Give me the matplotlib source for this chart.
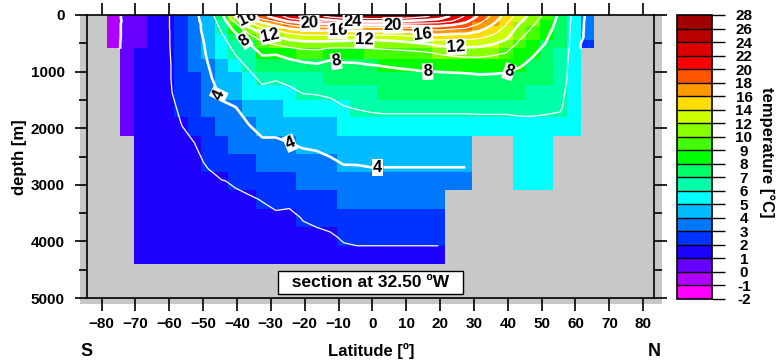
"""
Meridional temperature section at 32.5 W (latitude vs depth).
Blocky model cells filled by temperature class, white isotherms on top.
"""
import numpy as np
import matplotlib
matplotlib.use('Agg')
import matplotlib.pyplot as plt
from matplotlib.colors import ListedColormap, BoundaryNorm
from matplotlib.patches import Rectangle

plt.rcParams['font.family'] = ['Liberation Sans', 'DejaVu Sans']
plt.rcParams['font.weight'] = 'bold'

# === Data =====================================================================

# model grid (cell edges), 4 degree latitude cells
lat_edges = [-78.5, -74.5, -70.5, -66.5, -62.5, -58.5, -54.5, -50.5, -46.5,
             -42.5, -38.5, -34.5, -30.5, -26.5, -22.5, -18.5, -14.5, -10.5,
             -6.5, -2.5, 1.5, 5.5, 9.5, 13.5, 17.5, 21.5, 25.5, 29.5, 33.5,
             37.5, 41.5, 45.5, 49.5, 53.5, 57.5, 61.5, 65.5]
depth_edges = [0, 35, 80, 130, 190, 260, 340, 440, 583, 780, 1000, 1240, 1500,
               1800, 2138, 2450, 2770, 3092, 3420, 3750, 4080, 4400]

# temperature profile of each ocean column, surface downwards (deg C);
# a column stops where the sea floor is reached
temp_columns = [
    [-0.5, -0.5, -0.6, -0.6, -0.6, -0.6, -0.6, -0.6],
    [0.4, 0.4, 0.4, 0.5, 0.5, 0.5, 0.5, 0.6, 0.6, 0.6, 0.6, 0.6, 0.6, 0.6],
    [0.7, 0.7, 0.7, 0.7, 0.8, 0.8, 0.8, 0.9, 1.3, 1.3, 1.3, 1.3, 1.3, 1.2, 1.2, 1.2, 1.1, 1.1, 1.1, 1.1, 1.1],
    [1.6, 1.6, 1.7, 1.7, 1.7, 1.7, 1.7, 1.7, 1.6, 1.6, 1.6, 1.5, 1.5, 1.5, 1.4, 1.4, 1.3, 1.3, 1.3, 1.2, 1.2],
    [1.9, 1.9, 1.9, 1.9, 1.9, 1.9, 1.9, 1.9, 1.9, 1.9, 1.9, 1.9, 1.8, 1.8, 1.7, 1.6, 1.6, 1.5, 1.5, 1.4, 1.4],
    [2.6, 2.6, 2.6, 2.6, 2.6, 2.5, 2.5, 2.5, 2.4, 2.3, 2.3, 2.2, 2.1, 1.98, 1.9, 1.8, 1.7, 1.6, 1.5, 1.5, 1.4],
    [3.6, 3.6, 3.6, 3.5, 3.5, 3.5, 3.4, 3.3, 3.2, 3.05, 2.9, 2.7, 2.45, 2.2, 1.98, 1.9, 1.85, 1.8, 1.7, 1.6, 1.5],
    [4.9, 4.8, 4.7, 4.6, 4.6, 4.5, 4.4, 4.3, 4.2, 3.98, 3.8, 3.5, 3.2, 2.8, 2.4, 2.05, 1.9, 1.8, 1.7, 1.7, 1.6],
    [7.5, 7.2, 6.9, 6.6, 6.3, 6.05, 5.7, 5.4, 5.1, 4.8, 4.5, 4.2, 3.8, 3.4, 2.95, 2.35, 1.98, 1.9, 1.85, 1.8, 1.8],
    [12.5, 11.5, 10.5, 9.5, 8.8, 8.1, 7.3, 6.6, 6.05, 5.5, 4.95, 4.5, 3.95, 3.6, 3.1, 2.5, 2.05, 1.92, 1.88, 1.85, 1.8],
    [17.0, 16.2, 14.8, 13.2, 11.8, 10.4, 9.2, 7.9, 6.95, 6.2, 5.6, 5.05, 4.4, 3.95, 3.4, 2.8, 2.15, 1.95, 1.85, 1.8, 1.75],
    [19.5, 18.5, 16.9, 15.5, 13.9, 12.5, 11.0, 9.5, 8.2, 7.05, 6.3, 5.6, 4.95, 4.3, 3.8, 3.3, 2.5, 2.02, 1.88, 1.8, 1.75],
    [21.0, 20.2, 18.5, 16.8, 15.2, 13.5, 11.9, 10.2, 8.1, 7.1, 6.1, 5.5, 4.9, 4.3, 3.8, 3.3, 2.8, 2.15, 1.9, 1.8, 1.75],
    [23.0, 22.1, 20.5, 18.5, 16.5, 14.5, 12.8, 10.8, 8.6, 7.3, 6.3, 5.75, 5.1, 4.4, 3.95, 3.35, 2.85, 2.1, 1.9, 1.85, 1.8],
    [24.5, 23.5, 21.2, 19.5, 17.1, 15.1, 13.2, 11.2, 9.05, 7.6, 6.6, 6.05, 5.3, 4.6, 4.1, 3.6, 3.1, 2.5, 2.02, 1.9, 1.8],
    [25.5, 24.6, 22.5, 19.8, 17.3, 15.3, 13.3, 11.3, 9.2, 7.8, 6.8, 6.1, 5.4, 4.7, 4.15, 3.7, 3.2, 2.7, 2.1, 1.9, 1.85],
    [26.5, 25.5, 23.2, 20.2, 17.4, 15.4, 13.3, 11.2, 8.4, 7.7, 7.05, 6.2, 5.6, 4.9, 4.3, 3.85, 3.35, 2.8, 2.15, 1.95, 1.85],
    [27.1, 25.9, 24.2, 20.5, 17.5, 15.5, 13.2, 11.0, 8.6, 7.8, 7.2, 6.5, 5.9, 5.1, 4.5, 4.05, 3.6, 3.05, 2.45, 2.05, 1.9],
    [27.2, 26.1, 24.4, 20.6, 17.6, 15.6, 13.0, 10.9, 8.8, 7.8, 7.3, 6.7, 6.05, 5.2, 4.55, 4.05, 3.65, 3.05, 2.5, 2.1, 1.9],
    [27.3, 26.2, 24.6, 20.8, 17.6, 15.6, 12.8, 10.8, 9.1, 7.95, 7.4, 6.9, 6.2, 5.3, 4.6, 4.1, 3.7, 3.1, 2.6, 2.1, 1.9],
    [27.3, 26.2, 24.5, 21.0, 17.8, 15.7, 13.0, 11.0, 9.2, 8.05, 7.5, 7.05, 6.3, 5.3, 4.6, 4.1, 3.7, 3.1, 2.6, 2.1, 1.9],
    [27.2, 26.1, 24.2, 21.2, 18.0, 15.8, 13.2, 11.2, 9.3, 8.15, 7.5, 7.1, 6.3, 5.3, 4.6, 4.1, 3.7, 3.1, 2.6, 2.1, 1.9],
    [26.9, 25.8, 23.8, 21.3, 18.3, 16.1, 13.5, 11.5, 9.4, 8.25, 7.5, 7.1, 6.3, 5.3, 4.6, 4.1, 3.7, 3.1, 2.6, 2.1, 1.9],
    [26.4, 25.3, 23.4, 21.4, 18.8, 16.8, 15.2, 11.9, 9.6, 8.35, 7.6, 7.1, 6.3, 5.3, 4.6, 4.1, 3.7, 3.1, 2.6, 2.1, 1.9],
    [25.3, 24.4, 23.1, 21.2, 19.1, 17.1, 15.1, 12.5, 10.1, 8.4, 7.6, 7.1, 6.3, 5.3, 4.6, 4.1, 3.7, 3.1, 2.6, 2.1, 1.9],
    [23.8, 23.1, 22.1, 20.5, 18.6, 16.8, 14.8, 12.6, 10.4, 8.5, 7.6, 7.1, 6.3, 5.3, 4.6, 4.1, 3.7],
    [21.8, 21.2, 20.5, 19.5, 18.2, 16.7, 14.8, 12.8, 10.6, 8.6, 7.6, 7.1, 6.3, 5.3, 4.6, 4.1, 3.7],
    [19.8, 19.3, 18.7, 17.9, 16.9, 15.8, 14.4, 12.6, 10.6, 8.7, 7.7, 7.1, 6.3, 5.4],
    [17.6, 17.2, 16.7, 16.1, 15.4, 14.6, 13.6, 12.1, 10.3, 8.6, 7.7, 7.1, 6.3, 5.4],
    [15.2, 14.9, 14.5, 14.1, 13.6, 13.1, 12.4, 11.3, 9.9, 8.5, 7.6, 7.1, 6.3, 5.4],
    [13.1, 12.8, 12.4, 11.9, 11.4, 10.9, 10.3, 9.6, 8.8, 8.1, 7.5, 7.05, 6.3, 5.6, 5.5, 5.4, 5.3],
    [11.1, 10.8, 10.5, 10.2, 9.8, 9.4, 9.05, 8.6, 8.1, 7.7, 7.3, 6.95, 6.3, 5.6, 5.5, 5.4, 5.3],
    [9.3, 9.1, 8.9, 8.7, 8.5, 8.3, 8.1, 7.9, 7.6, 7.3, 7.05, 6.8, 6.2, 5.6, 5.5, 5.4, 5.3],
    [7.6, 7.5, 7.5, 7.4, 7.4, 7.3, 7.2, 7.1, 6.8, 6.6, 6.5, 6.3, 6.1, 5.6],
    [5.6, 5.6, 5.6, 5.5, 5.5, 5.5, 5.5, 5.5, 5.5, 5.5, 5.5, 5.4, 5.4, 5.4],
    [3.6, 3.6, 3.5, 3.5, 3.5, 3.4, 3.4, 2.5],
]

# colour classes of the colour bar
temp_bounds = [-2, -1, 0, 1, 2, 3, 4, 5, 6, 7, 8, 9, 10, 12, 14, 16, 18, 20,
               22, 24, 26, 28]
temp_colors = ['#ff00ff', '#b000ff', '#6600ff', '#1e00ff', '#0033ff',
               '#0077ff', '#00bbff', '#00ffff', '#00ffaa', '#00ff66',
               '#00ff00', '#44ff00', '#88ff00', '#ccff00', '#ffdd00',
               '#ff9900', '#ff5500', '#ff0000', '#dd0000', '#bb0000',
               '#a00000']

# isotherms: labelled (thick), unlabelled thick, thin
labelled_levels = [4, 8, 12, 16, 20, 24]
plain_thick_levels = [0, 28]
thin_levels = [2, 6, 10, 14, 18, 22, 26]
# where the isotherm labels sit (latitude, depth)
label_points = [(-36.8, 35), (-37.1, 390), (-30.3, 350), (-18.5, 140),
                (-10.2, 265), (-5.8, 120), (-2.3, 440), (-10.6, 760),
                (-45.6, 1410), (-23.9, 2210), (1.6, 2650), (6.0, 210),
                (14.8, 390), (24.7, 650), (16.3, 1060), (41.4, 1180)]

LAND = '#c8c8c8'


# === Helper Functions =========================================================

def build_section(columns, n_levels):
    """Stack the column profiles into a (depth, lat) masked array."""
    grid = np.full((n_levels, len(columns)), np.nan)
    for j, col in enumerate(columns):
        grid[:len(col), j] = col
    return np.ma.masked_invalid(grid)


def px_box(x0, y0, x1, y1, fig_w=778, fig_h=362):
    """Figure-fraction rectangle from pixel corners (top-left origin)."""
    return [x0 / fig_w, 1 - y1 / fig_h, (x1 - x0) / fig_w, (y1 - y0) / fig_h]


# === Plot =====================================================================

lat_e = np.array(lat_edges)
dep_e = np.array(depth_edges)
lat_c = 0.5 * (lat_e[:-1] + lat_e[1:])
dep_c = 0.5 * (dep_e[:-1] + dep_e[1:])
temp = build_section(temp_columns, len(dep_c))

cmap = ListedColormap(temp_colors)
cmap.set_bad(LAND)
norm = BoundaryNorm(temp_bounds, cmap.N)

fig = plt.figure(figsize=(7.78, 3.62), dpi=100)

# grey land frame sticks out a little beyond the axes box
bx = px_box(80, 15, 662, 304)
fig.add_artist(Rectangle((bx[0], bx[1]), bx[2], bx[3], transform=fig.transFigure,
                         facecolor=LAND, edgecolor='none', zorder=-1))

ax = fig.add_axes(px_box(87, 15, 654, 298))
ax.set_facecolor(LAND)
mesh = ax.pcolormesh(lat_e, dep_e, temp, cmap=cmap, norm=norm)

ax.contour(lat_c, dep_c, temp, levels=thin_levels, colors='white',
           linewidths=0.9)
ax.contour(lat_c, dep_c, temp, levels=plain_thick_levels, colors='white',
           linewidths=1.9)
cs = ax.contour(lat_c, dep_c, temp, levels=labelled_levels, colors='white',
                linewidths=1.9)
labels = ax.clabel(cs, inline=True, inline_spacing=2, fmt='%d', fontsize=12,
                   colors='black', manual=label_points)
for t in labels:
    t.set_fontweight('bold')
    t.set_bbox(dict(facecolor='white', edgecolor='none', pad=0.6))

ax.set_xlim(-84.3, 83.2)
ax.set_ylim(5000, 0)
ax.set_xticks(range(-80, 81, 10))
ax.set_yticks(range(0, 5001, 1000))
ax.set_yticks(range(500, 5000, 1000), minor=True)
ax.tick_params(axis='x', which='major', top=True, direction='out', length=9,
               width=1.2, labelsize=11, pad=5)
ax.tick_params(axis='y', which='major', right=True, direction='out', length=9,
               width=1.2, labelsize=11, pad=7)
ax.tick_params(axis='y', which='minor', right=True, direction='out', length=6,
               width=1.2)
for sp in ax.spines.values():
    sp.set_linewidth(1.2)

ax.text(0.5, 0.055, '  section at 32.50 \u00baW  ', transform=ax.transAxes,
        ha='center', va='center', fontsize=12.5, fontweight='bold', zorder=5,
        bbox=dict(boxstyle='square,pad=0.22', facecolor='white',
                  edgecolor='black', linewidth=1))

fig.text(20 / 778, 1 - 157 / 362, 'depth [m]', rotation=90, ha='center',
         va='center', fontsize=12, fontweight='bold')
fig.text(371 / 778, 1 - 351 / 362, 'Latitude [\u00ba]', ha='center',
         va='center', fontsize=12, fontweight='bold')
fig.text(87 / 778, 1 - 351 / 362, 'S', ha='center', va='center', fontsize=13,
         fontweight='bold')
fig.text(654 / 778, 1 - 351 / 362, 'N', ha='center', va='center', fontsize=13,
         fontweight='bold')

# colour bar
cax = fig.add_axes(px_box(677, 15, 712, 299))
cb = fig.colorbar(mesh, cax=cax, ticks=temp_bounds, spacing='uniform',
                  drawedges=True)
cb.outline.set_linewidth(1.2)
cb.dividers.set_linewidth(1.0)
cax.tick_params(length=9, width=1, labelsize=11, pad=14)
cax.set_yticklabels([str(b) for b in temp_bounds])
for t in cax.get_yticklabels():
    t.set_ha('center')
    t.set_fontweight('bold')
fig.text(767 / 778, 1 - 152 / 362, 'temperature [\u00b0C]', rotation=270,
         ha='center', va='center', fontsize=12, fontweight='bold')

fig.savefig('out.png', dpi=100)
plt.close(fig)
